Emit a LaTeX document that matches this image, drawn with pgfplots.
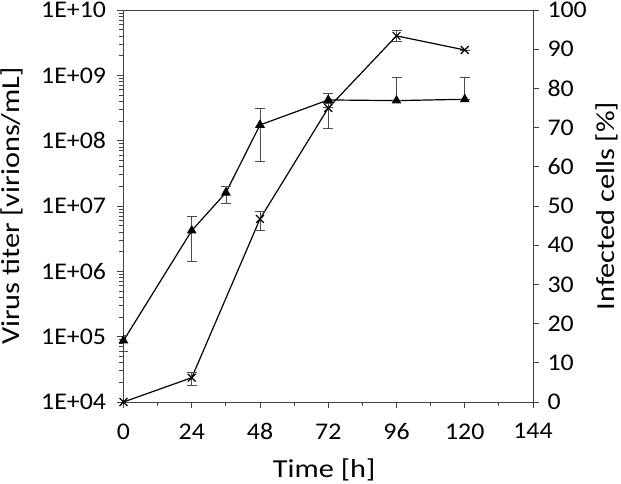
\documentclass[border=0pt]{standalone}
\usepackage{fontspec}
\setmainfont{Carlito}
\newfontfamily\tickfont[FakeStretch=1.08]{Carlito}
\newfontfamily\labfont[FakeStretch=1.17]{Carlito}
\usepackage{pgfplots}
\pgfplotsset{compat=1.18}
\begin{document}
\begin{tikzpicture}
\pgfplotsset{
 every axis/.append style={
   scale only axis, width=409.5bp, height=392bp,
   at={(0,0)}, anchor=south west,
   xmin=0, xmax=144,
   /pgf/number format/assume math mode=true,
   tick label style={font=\tickfont\fontsize{24}{28}\selectfont},
   label style={font=\labfont\fontsize{26}{30}\selectfont},
   axis line style={black!75, line width=0.8pt},
   tick style={black!75, line width=0.8pt},
   tick align=outside,
   major tick length=6bp, minor tick length=4bp,
 }
}
\begin{axis}[
  ymode=log, ymin=1e4, ymax=1e10,
  xtick={0,24,...,144}, minor x tick num=1,
  xtick pos=bottom, ytick pos=left,
  ytick={1e4,1e5,1e6,1e7,1e8,1e9,1e10},
  yticklabels={1E+04,1E+05,1E+06,1E+07,1E+08,1E+09,1E+10},
  yticklabel style={anchor=east, xshift=-8bp},
  xticklabel style={anchor=north, yshift=-12bp},
  xlabel={Time [h]},
  ylabel={Virus titer [virions/mL]},
  xlabel style={at={(axis description cs:0.49,-0.1735)}, anchor=center},
  ylabel style={at={(axis description cs:-0.272,0.5)}, anchor=center},
]
\addplot[black, line width=1.2pt, mark=triangle*, mark size=4.5bp,
  mark options={solid, fill=black},
  error bars/.cd, y dir=both, y explicit,
  error bar style={line width=0.6pt, black!70},
  error mark options={rotate=90, mark size=5bp, black!70, line width=0.6pt}]
  table[x=t, y=v, y error plus=ep, y error minus=em] {
  t   v       ep      em
  0   8.7e4   1.9e4   2.7e4
  24  4.2e6   2.7e6   2.8e6
  36  1.6e7   0.4e7   0.5e7
  48  1.74e8  1.36e8  1.26e8
  72  4.2e8   1.1e8   1.0e8
  96  4.1e8   5.2e8   0
  120 4.3e8   5.0e8   0
  };
\end{axis}
\begin{axis}[
  axis x line=none, axis y line*=right,
  ymin=0, ymax=100, ytick={0,10,...,100},
  yticklabel style={anchor=west, xshift=5bp},
  ylabel={Infected cells [\%]},
  ylabel style={at={(axis description cs:1.1807,0.5)}, anchor=center, rotate=0},
]
\addplot[black, line width=1.2pt, mark=x, mark size=5.5bp,
  mark options={solid, line width=1.2pt},
  error bars/.cd, y dir=both, y explicit,
  error bar style={line width=0.6pt, black!70},
  error mark options={rotate=90, mark size=5bp, black!70, line width=0.6pt}]
  table[x=t, y=v, y error plus=ep, y error minus=em] {
  t   v     ep   em
  0   0     0    0
  24  6.2   1.5  2.0
  48  46.7  2.0  2.8
  72  75.0  1.3  5.1
  96  93.4  1.3  1.5
  120 89.8  0    0
  };
\end{axis}
\pgfresetboundingbox
\path[use as bounding box] (-123.5bp,-82bp) rectangle (497.5bp,402bp);
\end{tikzpicture}
\end{document}
